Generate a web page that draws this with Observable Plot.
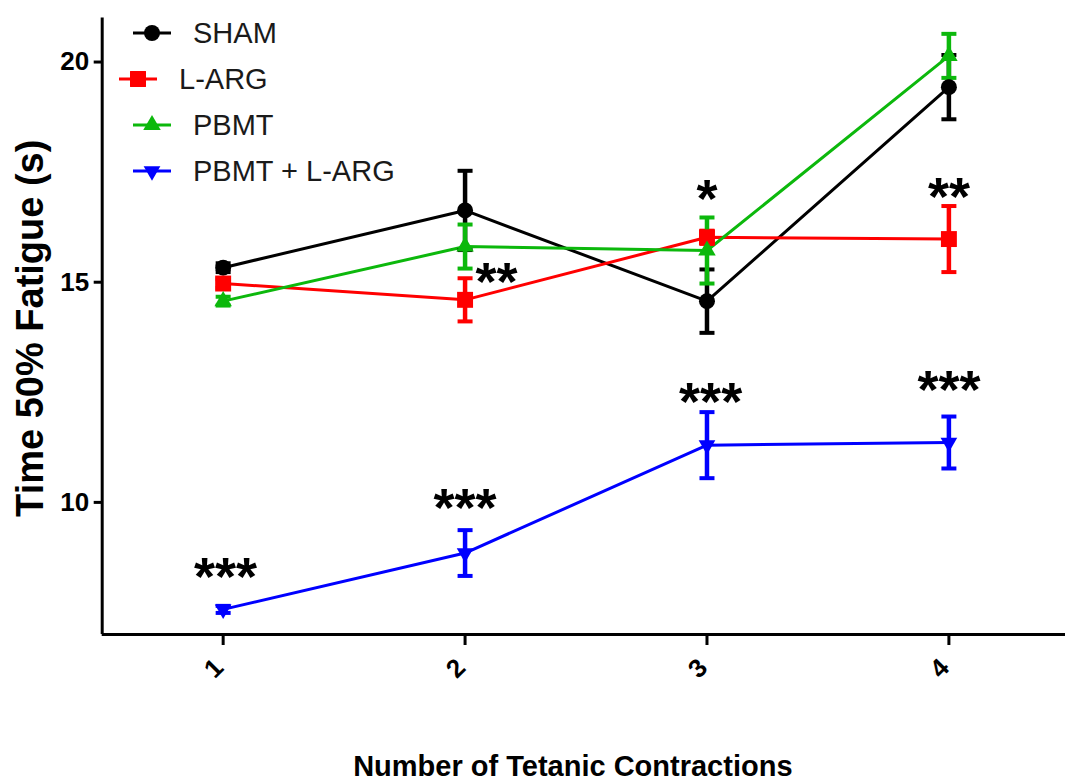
<!DOCTYPE html>
<html><head><meta charset="utf-8">
<script src="https://cdn.jsdelivr.net/npm/d3@7"></script>
<script src="https://cdn.jsdelivr.net/npm/@observablehq/plot@0.6"></script>
<style>
body{margin:0;background:#fff;}
#chart{width:1065px;height:781px;overflow:hidden;}
</style></head>
<body><div id="chart"></div>
<script>
// ---- data ----
const contractions = [1, 2, 3, 4];
const seriesNames = ["SHAM", "L-ARG", "PBMT", "PBMT + L-ARG"];
const seriesColors = ["#000000", "#ff0000", "#0cb80c", "#0000ff"];
const shamMean = [15.33, 16.63, 14.57, 19.43];
const shamSem  = [0.10, 0.90, 0.72, 0.73];
const largMean = [14.97, 14.60, 16.02, 15.98];
const largSem  = [0.10, 0.49, 0.15, 0.75];
const pbmtMean = [14.57, 15.81, 15.72, 20.14];
const pbmtSem  = [0.10, 0.50, 0.75, 0.50];
const comboMean = [7.57, 8.85, 11.30, 11.36];
const comboSem  = [0.08, 0.52, 0.75, 0.59];
const yTicks = [10, 15, 20];
const yDomain = [7, 21];
const xDomain = [0.5, 4.482];
const annotX = [1.01, 2.0, 2.13, 3.0, 3.015, 4.0, 4.0];
const annotY = [8.53, 10.11, 15.23, 17.12, 12.50, 17.16, 12.79];
const annotText = ["***", "***", "**", "*", "***", "**", "***"];
const yLabel = "Time 50% Fatigue (s)";
const xLabel = "Number of Tetanic Contractions";

const means = [shamMean, largMean, pbmtMean, comboMean];
const sems = [shamSem, largSem, pbmtSem, comboSem];
const symbols = ["circle", "square", "triangle", "triangle"];
const symbolRot = [0, 0, 0, 180];
const symbolR = [8, 9, 6.5, 6.2];

const table = [];
seriesNames.forEach((s, i) => contractions.forEach((c, j) => table.push({series: s, idx: i, x: c, y: means[i][j], sem: sems[i][j]})));
const annotations = annotText.map((t, i) => ({x: annotX[i], y: annotY[i], text: t}));

const capSymbol = {draw(ctx, size) { const r = Math.sqrt(size / Math.PI); ctx.moveTo(-r, 0); ctx.lineTo(r, 0); }};

const lineMarks = [], errMarks = [], dotMarks = [];
seriesNames.forEach((s, i) => {
  const d = table.filter(r => r.idx === i);
  const col = seriesColors[i];
  lineMarks.push(Plot.line(d, {x: "x", y: "y", stroke: col, strokeWidth: 3}));
  errMarks.push(Plot.ruleX(d, {x: "x", y1: r => r.y - r.sem, y2: r => r.y + r.sem, stroke: col, strokeWidth: 4.5}));
  errMarks.push(Plot.dot(d, {x: "x", y: r => r.y + r.sem, symbol: capSymbol, r: 7.5, stroke: col, strokeWidth: 4, fill: "none"}));
  errMarks.push(Plot.dot(d, {x: "x", y: r => r.y - r.sem, symbol: capSymbol, r: 7.5, stroke: col, strokeWidth: 4, fill: "none"}));
  dotMarks.push(Plot.dot(d, {x: "x", y: "y", symbol: symbols[i], rotate: symbolRot[i], r: symbolR[i], fill: col, stroke: "none"}));
});

const font = "'Liberation Sans', Arial, sans-serif";
const plot = Plot.plot({
  width: 1065, height: 781,
  marginLeft: 101.7, marginRight: 0, marginTop: 17.5, marginBottom: 147,
  x: {domain: xDomain},
  y: {domain: yDomain},
  style: {fontFamily: font, background: "white", color: "black"},
  marks: [
    Plot.axisY({ticks: yTicks, tickSize: 8, tickPadding: 5, fontSize: 26, fontWeight: "bold", strokeWidth: 3, label: null}),
    Plot.axisX({ticks: contractions, tickFormat: () => "", tickSize: 11, strokeWidth: 3, label: null}),
    Plot.axisX({ticks: contractions, tickFormat: d => String(d), tickSize: 0, tickRotate: -45, tickPadding: 29, dx: -4, fontSize: 26, fontWeight: "bold", label: null}),
    Plot.ruleX([xDomain[0]], {y1: yDomain[0], y2: yDomain[1], strokeWidth: 3, stroke: "black"}),
    Plot.ruleY([yDomain[0]], {x1: xDomain[0], x2: xDomain[1], strokeWidth: 3, stroke: "black"}),
    ...lineMarks, ...errMarks, ...dotMarks,
    Plot.text(annotations, {x: "x", y: "y", text: "text", fontSize: 54, fontWeight: "bold", lineAnchor: "bottom", dy: 28, fill: "black"}),
    Plot.text([yLabel], {frameAnchor: "left", textAnchor: "middle", rotate: -90, dx: -71, dy: 2, fontSize: 38, fontWeight: "bold", fill: "black"}),
    Plot.text([xLabel], {frameAnchor: "bottom", textAnchor: "middle", dx: -11, dy: 141, lineAnchor: "bottom", fontSize: 29, fontWeight: "bold", fill: "black"})
  ]
});

// legend
const svg = d3.select(plot);
const lg = svg.append("g").attr("font-family", font).attr("text-anchor", "start");
seriesNames.forEach((s, i) => {
  const yy = 33 + i * 46;
  const off = i === 1 ? -14 : 0;
  lg.append("line").attr("x1", 133 + off).attr("x2", 171 + off).attr("y1", yy).attr("y2", yy)
    .attr("stroke", seriesColors[i]).attr("stroke-width", 3);
  const sym = {circle: d3.symbolCircle, square: d3.symbolSquare, triangle: d3.symbolTriangle}[symbols[i]];
  lg.append("path").attr("d", d3.symbol(sym, Math.PI * symbolR[i] * symbolR[i])())
    .attr("transform", `translate(${152 + off},${yy}) rotate(${symbolRot[i]})`).attr("fill", seriesColors[i]);
  lg.append("text").attr("x", 193 + off).attr("y", yy).attr("dy", "0.35em").attr("font-size", 29)
    .attr("text-anchor", "start").attr("fill", "#1a1a1a").text(s);
});

document.getElementById("chart").appendChild(plot);
</script></body></html>
